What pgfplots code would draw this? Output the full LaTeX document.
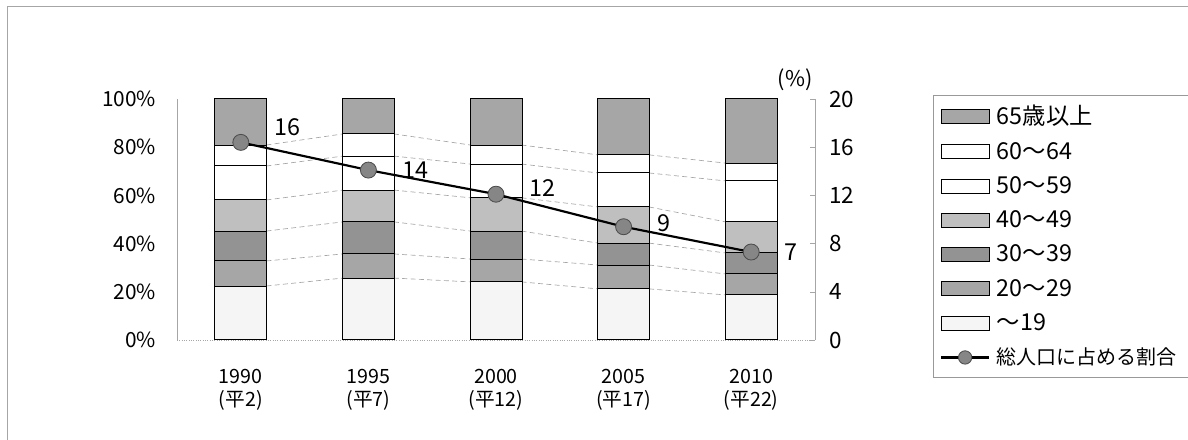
\documentclass[border=0pt]{standalone}
\usepackage{fontspec}
\setmainfont{Noto Sans CJK JP}
\usepackage{pgfplots}
\pgfplotsset{compat=1.18}
\usepackage{pgfplotstable}

% shares by age group (%), bottom to top
\pgfplotstableread{
x s19 s20 s30 s40 s50 s60 s65
0 22.4 10.4 12.4 12.9 14.1 8.7 19.1
1 25.7 10.0 13.3 13.2 14.1 9.2 14.5
2 24.1 9.5 11.6 13.8 14.0 7.9 19.1
3 21.2 9.9 9.1 15.0 14.1 7.5 23.2
4 18.7 8.7 8.7 12.9 17.0 7.4 26.6
}\agetable

% cumulative segment tops, for the series lines between bars
\pgfplotstableread{
x b1 b2 b3 b4 b5 b6
0.2 22.4 32.8 45.2 58.1 72.2 80.9
0.8 25.7 35.7 49.0 62.2 76.3 85.5
nan nan nan nan nan nan nan
1.2 25.7 35.7 49.0 62.2 76.3 85.5
1.8 24.1 33.6 45.2 59.0 73.0 80.9
nan nan nan nan nan nan nan
2.2 24.1 33.6 45.2 59.0 73.0 80.9
2.8 21.2 31.1 40.2 55.2 69.3 76.8
nan nan nan nan nan nan nan
3.2 21.2 31.1 40.2 55.2 69.3 76.8
3.8 18.7 27.4 36.1 49.0 66.0 73.4
}\linktable

% share of total population (%), label offset
\pgfplotstableread{
x y dy
0 16.4 9
1 14.1 0
2 12.1 3.6
3 9.4 2.4
4 7.3 0
}\ratetable

\colorlet{dotfill}{gray!95}
\colorlet{dotdraw}{gray!60!black}

\pgfplotsset{
  geom/.style={at={(106.2pt,60pt)}, anchor=south west, scale only axis,
    width=382.8pt, height=144.6pt, xmin=-0.5, xmax=4.5},
  seg/.style={draw=black, line width=0.6pt, fill=#1,
    legend image code/.code={\draw[##1] (0pt,-4.2pt) rectangle (28.8pt,4.2pt);}},
  rate/.style={black, line width=1.3pt, mark=*, mark size=4.8pt,
    mark options={fill=dotfill, draw=dotdraw, line width=0.5pt}},
  ratelegend/.style={
    legend image code/.code={
      \draw[black, line width=1.3pt] (0pt,0pt) -- (28.8pt,0pt);
      \filldraw[fill=dotfill, draw=dotdraw, line width=0.5pt] (14.4pt,0pt) circle (4pt);}},
}

\begin{document}
\begin{tikzpicture}
\useasboundingbox (0,0) rectangle (712.8pt,264pt);
\draw[gray!70, line width=0.6pt] (4.2pt,0pt) -- (4.2pt,259.8pt) -- (712.8pt,259.8pt);

\begin{axis}[geom, hide axis, ymin=0, ymax=100, unbounded coords=jump]
  \foreach \c in {b1,b2,b3,b4,b5,b6}{
    \addplot[gray!70, densely dashed, line width=0.4pt] table[x=x, y=\c] {\linktable};
  }
\end{axis}

\begin{axis}[geom,
  ybar stacked, bar width=31.2pt,
  ymin=0, ymax=100,
  axis x line*=bottom, axis y line*=left,
  x axis line style={gray!70, densely dotted, -},
  y axis line style={gray!70, -},
  major tick length=0pt,
  xtick={0,1,2,3,4},
  xticklabels={{1990\\(平2)},{1995\\(平7)},{2000\\(平12)},{2005\\(平17)},{2010\\(平22)}},
  xticklabel style={align=center, yshift=-14pt, font=\fontsize{11.8}{13.6}\selectfont},
  ytick={0,20,...,100},
  yticklabel={\pgfmathprintnumber{\tick}\%},
  yticklabel style={xshift=-9pt, font=\fontsize{12.5}{14}\selectfont},
  /pgf/number format/assume math mode=true,
  reverse legend,
  legend cell align=left,
  legend style={at={(1.185,1.017)}, anchor=north west, draw=gray!80,
    font=\fontsize{14}{15}\selectfont, row sep=4.9pt, inner xsep=4pt, inner ysep=4pt,
    nodes={inner xsep=4pt}},
]
  \addlegendimage{ratelegend}
  \addlegendentry{\fontsize{12}{14}\selectfont 総人口に占める割合}
  \addplot[seg=gray!8] table[x=x, y=s19] {\agetable};
  \addlegendentry{～19}
  \addplot[seg=gray!70] table[x=x, y=s20] {\agetable};
  \addlegendentry{20～29}
  \addplot[seg=gray!85] table[x=x, y=s30] {\agetable};
  \addlegendentry{30～39}
  \addplot[seg=gray!50] table[x=x, y=s40] {\agetable};
  \addlegendentry{40～49}
  \addplot[seg=white] table[x=x, y=s50] {\agetable};
  \addlegendentry{50～59}
  \addplot[seg=white] table[x=x, y=s60] {\agetable};
  \addlegendentry{60～64}
  \addplot[seg=gray!70] table[x=x, y=s65] {\agetable};
  \addlegendentry{65歳以上}
\end{axis}

\begin{axis}[geom,
  ymin=0, ymax=20,
  axis x line=none, axis y line*=right,
  y axis line style={gray!70, -},
  ytick={0,4,...,20},
  tick align=inside, major tick length=3pt, tick style={gray!70},
  yticklabel style={xshift=5pt, font=\fontsize{13.5}{15}\selectfont},
  /pgf/number format/assume math mode=true,
  ylabel={(\%)},
  every axis y label/.style={at={(axis description cs:0.969,1.079)}, anchor=center,
    font=\fontsize{13}{14}\selectfont},
]
  \addplot[rate,
    nodes near coords={\pgfmathprintnumber[fixed,precision=0]{\pgfplotspointmeta}},
    visualization depends on={\thisrow{dy} \as \dy},
    every node near coord/.append style={anchor=west, inner sep=0pt, xshift=20pt,
      yshift=\dy pt, font=\fontsize{14}{15}\selectfont, text=black}]
    table[x=x, y=y] {\ratetable};
\end{axis}
\end{tikzpicture}
\end{document}
